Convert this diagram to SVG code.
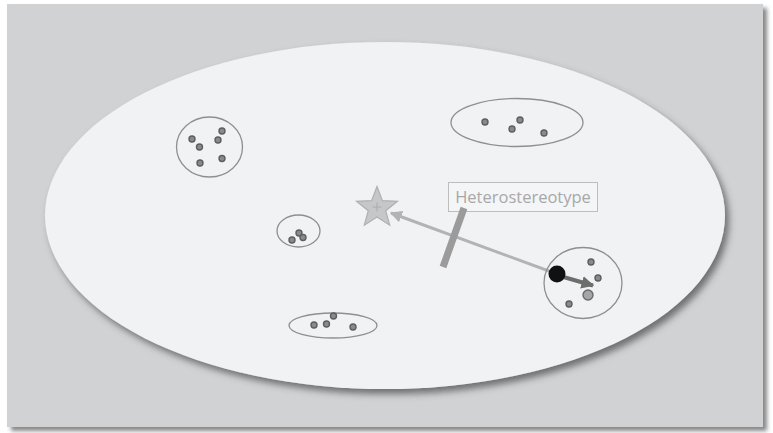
<svg xmlns="http://www.w3.org/2000/svg" width="773" height="433" viewBox="0 0 773 433">
<defs>
<filter id="sh" x="-10%" y="-10%" width="120%" height="125%">
<feDropShadow dx="4" dy="5" stdDeviation="3.5" flood-color="#444" flood-opacity="0.7"/>
</filter>
<filter id="sh2" x="-5%" y="-5%" width="110%" height="110%">
<feDropShadow dx="4" dy="4" stdDeviation="2" flood-color="#555" flood-opacity="0.7"/>
</filter>
<marker id="ah" viewBox="0 0 10 10" refX="9" refY="5" markerWidth="4" markerHeight="4" orient="auto" markerUnits="strokeWidth">
<path d="M0,0 L10,5 L0,10 z" fill="#b3b3b3"/>
</marker>
<marker id="ah2" viewBox="0 0 10 10" refX="9" refY="5" markerWidth="3.2" markerHeight="3.2" orient="auto" markerUnits="strokeWidth">
<path d="M0,0 L10,5 L0,10 z" fill="#6d6d6d"/>
</marker>
</defs>
<style>
.grp{fill:none;stroke:#8f8f8f;stroke-width:1.3}
.dot{fill:#8a8a8a;stroke:#5e5e5e;stroke-width:1.4}
.lbl{font-family:"Open Sans","Liberation Sans",sans-serif;font-size:16.5px;fill:#a8a8a8}
</style>
<rect x="0" y="0" width="773" height="433" fill="#ffffff"/>
<rect x="7" y="4" width="756" height="423" fill="#d1d2d4" filter="url(#sh2)"/>
<ellipse cx="385" cy="215.5" rx="340" ry="173.5" fill="#f1f2f4" filter="url(#sh)"/>

<g id="group1">
<ellipse class="grp" cx="209.5" cy="147" rx="33" ry="30"/>
<circle class="dot" cx="192" cy="139" r="3"/>
<circle class="dot" cx="199.5" cy="147" r="3"/>
<circle class="dot" cx="218" cy="140" r="3"/>
<circle class="dot" cx="222" cy="131" r="3"/>
<circle class="dot" cx="200" cy="163" r="3"/>
<circle class="dot" cx="222" cy="158.5" r="3"/>
</g>

<g id="group2">
<ellipse class="grp" cx="517" cy="122.5" rx="66" ry="24"/>
<circle class="dot" cx="485" cy="122" r="3"/>
<circle class="dot" cx="520" cy="120" r="3"/>
<circle class="dot" cx="512" cy="129" r="3"/>
<circle class="dot" cx="544" cy="133" r="3"/>
</g>

<g id="group4">
<ellipse class="grp" cx="298.5" cy="231" rx="21.5" ry="16"/>
<circle class="dot" cx="292" cy="240" r="3"/>
<circle class="dot" cx="299" cy="233" r="3"/>
<circle class="dot" cx="303" cy="237.5" r="3"/>
</g>

<g id="group5">
<ellipse class="grp" cx="333" cy="325.5" rx="44" ry="12.5"/>
<circle class="dot" cx="314" cy="325" r="3"/>
<circle class="dot" cx="326.5" cy="324" r="3"/>
<circle class="dot" cx="333.5" cy="316" r="3"/>
<circle class="dot" cx="353" cy="327" r="3"/>
</g>

<g id="star">
<polygon points="377,186.5 382.4,200.6 397.5,201.3 385.7,210.7 389.7,225.2 377,217 364.3,225.2 368.3,210.7 356.5,201.3 371.6,200.6" fill="#c6c7c9" stroke="#b0b0b0" stroke-width="1.2"/>
<path d="M377,202.5 V211.5 M372.5,207 H381.5" stroke="#a9a9a9" stroke-width="0.9" fill="none"/>
</g>

<g id="label">
<rect x="448.5" y="182.5" width="149" height="29" fill="#f4f5f6" stroke="#bdbdbd" stroke-width="1"/>
<text class="lbl" x="523" y="203" text-anchor="middle">Heterostereotype</text>
</g>

<g id="connectors">
<line x1="557" y1="274" x2="391" y2="213" stroke="#b3b3b3" stroke-width="3" marker-end="url(#ah)"/>
<line x1="464" y1="208" x2="443" y2="267" stroke="#9b9b9b" stroke-width="7"/>
</g>

<g id="group3">
<ellipse class="grp" cx="583" cy="283" rx="39" ry="35.5"/>
<circle class="dot" cx="591" cy="262" r="3"/>
<circle class="dot" cx="598" cy="278" r="3"/>
<circle cx="588" cy="295" r="5" fill="#a6a6a6" stroke="#6a6a6a" stroke-width="1.4"/>
<circle class="dot" cx="569" cy="304" r="3"/>
<line x1="560" y1="276" x2="593" y2="285.5" stroke="#6d6d6d" stroke-width="4" marker-end="url(#ah2)"/>
<circle cx="557" cy="274" r="8.5" fill="#111111"/>
</g>
</svg>
